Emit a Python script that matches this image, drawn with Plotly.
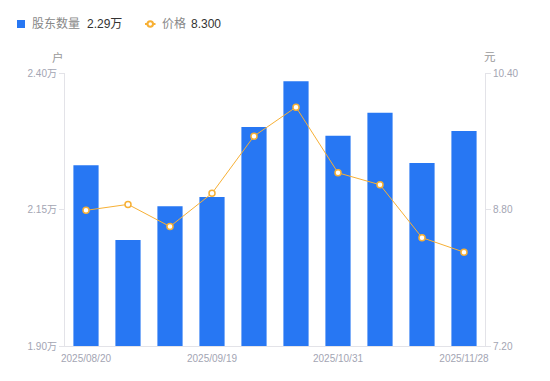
import plotly.graph_objects as go

dates = ["2025/08/20", "2025/08/31", "2025/09/10", "2025/09/19", "2025/09/30",
         "2025/10/20", "2025/10/31", "2025/11/10", "2025/11/20", "2025/11/28"]
holders = [2.231, 2.094, 2.156, 2.173, 2.301, 2.385, 2.285, 2.327, 2.235, 2.294]  # 万户
price = [8.79, 8.86, 8.60, 8.99, 9.66, 10.00, 9.23, 9.09, 8.47, 8.30]
left_ticks = [1.90, 2.15, 2.40]
right_ticks = [7.20, 8.80, 10.40]
shown_dates = ["2025/08/20", "2025/09/19", "2025/10/31", "2025/11/28"]

FONT = "Liberation Sans, Noto Sans CJK SC, sans-serif"
BLUE = "#2777F3"
ORANGE = "#F7B035"
TICK = "#A3A5B3"

W, H = 550, 381
L, R, T, B = 65, 65, 73, 35
pw, ph = W - L - R, H - T - B


def px(x):
    return (x - L) / pw


def py(y):
    return (H - B - y) / ph


fig = go.Figure()
fig.add_trace(go.Bar(
    x=dates, y=holders, marker=dict(color=BLUE, line=dict(width=0)),
    name="股东数量", yaxis="y", hoverinfo="skip", showlegend=False))
fig.add_trace(go.Scatter(
    x=dates, y=price, mode="lines+markers",
    line=dict(color=ORANGE, width=1),
    marker=dict(symbol="circle", size=6, color="white", line=dict(color=ORANGE, width=1.5)),
    name="价格", yaxis="y2", hoverinfo="skip", showlegend=False))

legend_y = 24
shapes = [
    dict(type="rect", xref="paper", yref="paper", x0=px(17), x1=px(25),
         y0=py(legend_y + 4), y1=py(legend_y - 4), fillcolor=BLUE, line=dict(width=0)),
    dict(type="line", xref="paper", yref="paper", x0=px(145), x1=px(155.5),
         y0=py(legend_y), y1=py(legend_y), line=dict(color=ORANGE, width=2)),
    dict(type="circle", xref="paper", yref="paper", x0=px(147.5), x1=px(153),
         y0=py(legend_y + 2.75), y1=py(legend_y - 2.75), fillcolor="white",
         line=dict(color=ORANGE, width=2)),
]

annotations = [
    dict(text="股东数量", x=px(30), y=py(legend_y), xanchor="left", yanchor="middle",
         font=dict(size=12, color="#888888")),
    dict(text="%.2f万" % holders[-1], x=px(85), y=py(legend_y), xanchor="left",
         yanchor="middle", font=dict(size=12, color="#333333")),
    dict(text="价格", x=px(160), y=py(legend_y), xanchor="left", yanchor="middle",
         font=dict(size=12, color="#888888")),
    dict(text="%.3f" % price[-1], x=px(189), y=py(legend_y), xanchor="left",
         yanchor="middle", font=dict(size=12, color="#333333")),
    dict(text="户", x=px(58), y=py(57), xanchor="center", yanchor="middle",
         font=dict(size=11.5, color="#999999")),
    dict(text="元", x=px(490), y=py(57), xanchor="center", yanchor="middle",
         font=dict(size=11.5, color="#999999")),
]
for a in annotations:
    a.update(xref="paper", yref="paper", showarrow=False)

fig.update_layout(
    width=W, height=H,
    margin=dict(l=L, r=R, t=T, b=B, autoexpand=False),
    paper_bgcolor="white", plot_bgcolor="white",
    font=dict(family=FONT, size=10, color=TICK),
    bargap=0.4,
    showlegend=False,
    shapes=shapes,
    annotations=annotations,
    xaxis=dict(type="category", categoryorder="array", categoryarray=dates,
               range=[-0.5, len(dates) - 0.5],
               tickmode="array", tickvals=shown_dates, ticktext=shown_dates,
               showgrid=False, showline=True, linecolor="#E3E3E8", linewidth=1,
               ticks="outside", ticklen=3, tickcolor="rgba(0,0,0,0)",
               tickfont=dict(size=10, color=TICK), zeroline=False),
    yaxis=dict(range=[1.90, 2.40], tickmode="array", tickvals=left_ticks,
               ticktext=["%.2f万" % v for v in left_ticks],
               showgrid=False, showline=True, linecolor="#E3E3E8", linewidth=1,
               ticks="outside", ticklen=5, tickcolor="#E3E3E8",
               tickfont=dict(size=10, color=TICK), zeroline=False),
    yaxis2=dict(range=[7.20, 10.40], overlaying="y", side="right", tickmode="array",
                tickvals=right_ticks, ticktext=["%.2f" % v for v in right_ticks],
                showgrid=False, showline=True, linecolor="#E3E3E8", linewidth=1,
                ticks="outside", ticklen=5, tickcolor="#E3E3E8",
                tickfont=dict(size=10, color=TICK), zeroline=False),
)

fig.write_html("out.html", config={"displayModeBar": False},
               post_script="document.body.style.margin='0';document.body.style.overflow='hidden';")
